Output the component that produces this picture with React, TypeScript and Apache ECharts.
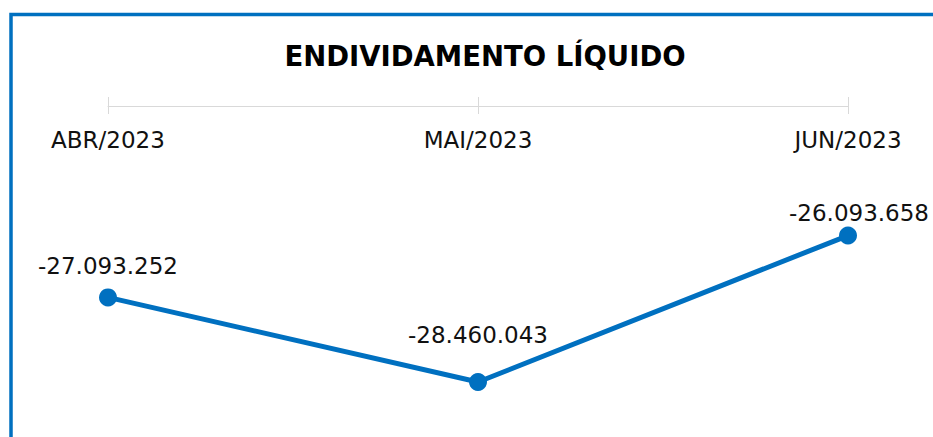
import React, { useEffect, useRef } from "react";
import * as echarts from "echarts";

const categories = ["ABR/2023", "MAI/2023", "JUN/2023"];
const values = [-27093252, -28460043, -26093658];
const titleText = "ENDIVIDAMENTO LÍQUIDO";

const fmt = (v: number) => {
  const s = Math.abs(Math.round(v)).toString().replace(/\B(?=(\d{3})+(?!\d))/g, ".");
  return (v < 0 ? "-" : "") + s;
};

export default function App() {
  const ref = useRef<HTMLDivElement>(null);
  useEffect(() => {
    if (!ref.current) return;
    const chart = echarts.init(ref.current, null, { renderer: "svg" });
    const labelOffsets = [[0, 0], [0, -15], [11, 9]];
    chart.setOption({
      animation: false,
      backgroundColor: "#ffffff",
      title: {
        text: titleText,
        left: 480,
        textAlign: "center",
        top: 37,
        textStyle: { fontFamily: "DejaVu Sans", fontWeight: "bold", fontSize: 27.5, color: "#000" },
      },
      graphic: [
        {
          type: "rect",
          shape: { x: 11, y: 14.5, width: 1200, height: 1200 },
          style: { fill: "none", stroke: "#0070C0", lineWidth: 3.5 },
          silent: true,
        },
      ],
      grid: { left: 108, right: 85, top: 106, bottom: 21.6 },
      xAxis: [
        {
          type: "category",
          data: categories,
          position: "top",
          boundaryGap: false,
          axisLine: { show: true, lineStyle: { color: "#d9d9d9", width: 1 } },
          axisTick: { show: true, inside: false, length: 9, lineStyle: { color: "#d9d9d9" } },
          axisLabel: {
            inside: true,
            margin: 34,
            fontFamily: "DejaVu Sans",
            fontSize: 23,
            color: "#111",
            verticalAlign: "middle",
          },
        },
        {
          type: "category",
          data: categories,
          position: "top",
          boundaryGap: false,
          axisLine: { show: false },
          axisTick: { show: true, inside: true, length: 8, lineStyle: { color: "#d9d9d9" } },
          axisLabel: { show: false },
        },
      ],
      yAxis: {
        type: "value",
        min: -29000000,
        max: -24000000,
        show: false,
        splitLine: { show: false },
      },
      series: [
        {
          type: "line",
          data: values.map((v, i) => ({
            value: v,
            label: { offset: labelOffsets[i] },
          })),
          symbol: "circle",
          symbolSize: 18,
          lineStyle: { color: "#0070C0", width: 5 },
          itemStyle: { color: "#0070C0" },
          label: {
            show: true,
            position: "top",
            distance: 11,
            fontFamily: "DejaVu Sans",
            fontSize: 23,
            color: "#111",
            formatter: (p: any) => fmt(p.value),
          },
        },
      ],
    });
    return () => chart.dispose();
  }, []);
  return (
    <div
      ref={ref}
      style={{ position: "fixed", left: 0, top: 0, width: 933, height: 437 }}
    />
  );
}
